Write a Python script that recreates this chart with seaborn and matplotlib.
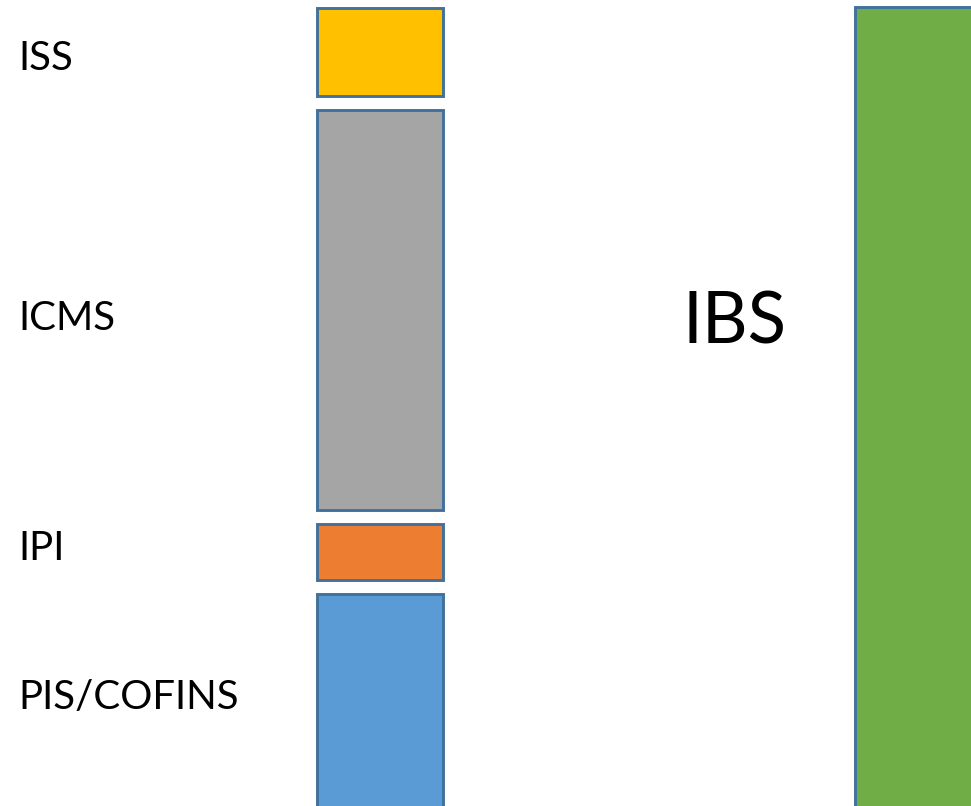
import matplotlib
matplotlib.use("Agg")
import matplotlib.pyplot as plt
import pandas as pd
import seaborn as sns

# Current taxes (bottom to top) versus the single replacement tax
tributos = ["PIS/COFINS", "IPI", "ICMS", "ISS"]
pesos = [222, 56, 400, 88]
cores = ["#5B9BD5", "#ED7D31", "#A5A5A5", "#FFC000"]

ibs_nome = "IBS"
ibs_peso = 809
ibs_cor = "#70AD47"

grupos = ["Atual", "IBS"]

sns.set_theme(style="white")
plt.rcParams["font.family"] = ["Lato", "DejaVu Sans"]

fig = plt.figure(figsize=(9.71, 8.06), dpi=100)
ax = fig.add_axes([0, 0, 1, 1])

base_inicial = -10
espaco = 14
largura = 0.234
borda = "#41719C"
espessura = 2.1

# stacked segments with a white gap between them
base = base_inicial
for nome, peso, cor in zip(tributos, pesos, cores):
    dados = pd.DataFrame({"grupo": ["Atual"], "valor": [peso]})
    sns.barplot(data=dados, x="grupo", y="valor", order=grupos, bottom=base,
                width=largura, color=cor, saturation=1, errorbar=None,
                edgecolor=borda, linewidth=espessura, ax=ax)
    base += peso + espaco

dados_ibs = pd.DataFrame({"grupo": ["IBS"], "valor": [ibs_peso]})
sns.barplot(data=dados_ibs, x="grupo", y="valor", order=grupos, bottom=base_inicial,
            width=largura, color=ibs_cor, saturation=1, errorbar=None,
            edgecolor=borda, linewidth=espessura, ax=ax)

# axis spans the full canvas (x in bar-spacing units, y in stack units)
ax.set_xlim(-0.7063, 1.0985)
ax.set_ylim(0, 806)
ax.axis("off")

# labels to the left of the stack (baselines)
rotulo_y = [97, 246, 476, 736]
x_rotulo = -0.7063 + 18 / 538
for nome, y in zip(tributos, rotulo_y):
    ax.text(x_rotulo, y, nome, fontsize=29, color="black", ha="left", va="baseline")

ax.text(-0.7063 + 682 / 538, 806 - 343, ibs_nome, fontsize=51, color="black",
        ha="left", va="baseline")

fig.savefig("out.png", dpi=100, facecolor="white")
